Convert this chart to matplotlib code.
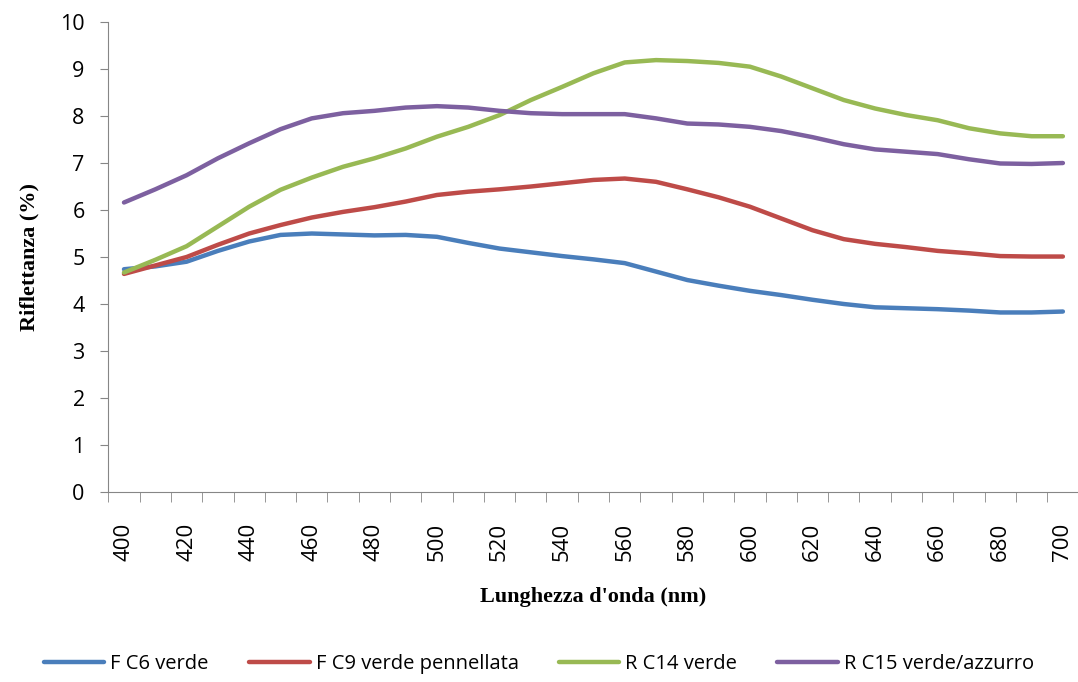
import numpy as np
import matplotlib
matplotlib.use("Agg")
import matplotlib.pyplot as plt

# wavelengths (nm), one category every 10 nm
wavelengths = list(range(400, 701, 10))

fc6_verde = [4.74, 4.80, 4.90, 5.13, 5.33, 5.47, 5.50, 5.48, 5.46, 5.47, 5.43,
             5.30, 5.18, 5.10, 5.02, 4.95, 4.87, 4.69, 4.51, 4.39, 4.28,
             4.19, 4.09, 4.00, 3.93, 3.91, 3.89, 3.86, 3.82, 3.82, 3.84]
fc9_verde_pennellata = [4.64, 4.82, 5.00, 5.26, 5.50, 5.68, 5.84, 5.96, 6.06, 6.18, 6.32,
                        6.39, 6.44, 6.50, 6.57, 6.64, 6.67, 6.60, 6.44, 6.27, 6.07,
                        5.82, 5.57, 5.38, 5.28, 5.21, 5.13, 5.08, 5.02, 5.01, 5.01]
rc14_verde = [4.67, 4.94, 5.23, 5.65, 6.07, 6.43, 6.69, 6.92, 7.10, 7.31, 7.56,
              7.77, 8.02, 8.34, 8.62, 8.91, 9.14, 9.19, 9.17, 9.13, 9.05,
              8.84, 8.59, 8.34, 8.16, 8.02, 7.91, 7.74, 7.63, 7.57, 7.57]
rc15_verde_azzurro = [6.16, 6.44, 6.74, 7.10, 7.42, 7.72, 7.95, 8.06, 8.11, 8.18, 8.21,
                      8.18, 8.11, 8.06, 8.04, 8.04, 8.04, 7.95, 7.84, 7.82, 7.77,
                      7.68, 7.55, 7.40, 7.29, 7.24, 7.19, 7.08, 6.99, 6.98, 7.00]

series_names = ["F C6 verde", "F C9 verde pennellata", "R C14 verde", "R C15 verde/azzurro"]
series_colors = ["#4A7EBB", "#BE4B48", "#98B954", "#7D60A0"]

plt.rcParams['font.family'] = ['Open Sans', 'DejaVu Sans']

fig = plt.figure(figsize=(10.78, 6.82), dpi=100)
ax = fig.add_axes([0.1005, 0.2786, 0.9, 0.6891])

x = np.arange(len(wavelengths))
for vals, name, col in zip([fc6_verde, fc9_verde_pennellata, rc14_verde, rc15_verde_azzurro],
                           series_names, series_colors):
    ax.plot(x, vals, color=col, lw=3.2, label=name, solid_capstyle='round')

ax.set_xlim(-0.5, len(wavelengths) - 0.5)
ax.set_ylim(0, 10)
ax.set_yticks(range(0, 11))
ax.tick_params(axis='y', labelsize=15.5, length=6, color='#868686', pad=11)

# ticks between categories, labels every other category
ax.set_xticks(np.arange(-0.5, len(wavelengths), 1), minor=True)
ax.set_xticks(x[::2])
ax.set_xticklabels([str(w) for w in wavelengths[::2]], rotation=90, fontsize=16)
ax.tick_params(axis='x', which='major', length=0, pad=22)
ax.tick_params(axis='x', which='minor', length=7, color='#868686')

for s in ['top', 'right']:
    ax.spines[s].set_visible(False)
for s in ['left', 'bottom']:
    ax.spines[s].set_color('#868686')

ax.set_ylabel("Riflettanza (%)", fontsize=16, fontweight='bold',
              family='Liberation Serif', labelpad=15)
ax.set_xlabel("Lunghezza d'onda (nm)", fontsize=16, fontweight='bold',
              family='Liberation Serif', labelpad=19)

fig.legend(loc='center', bbox_to_anchor=(0.5, 0.027), ncol=4, frameon=False,
           fontsize=14.5, handlelength=3.0, handletextpad=0.3, columnspacing=2.0)

fig.savefig("out.png", dpi=100)
